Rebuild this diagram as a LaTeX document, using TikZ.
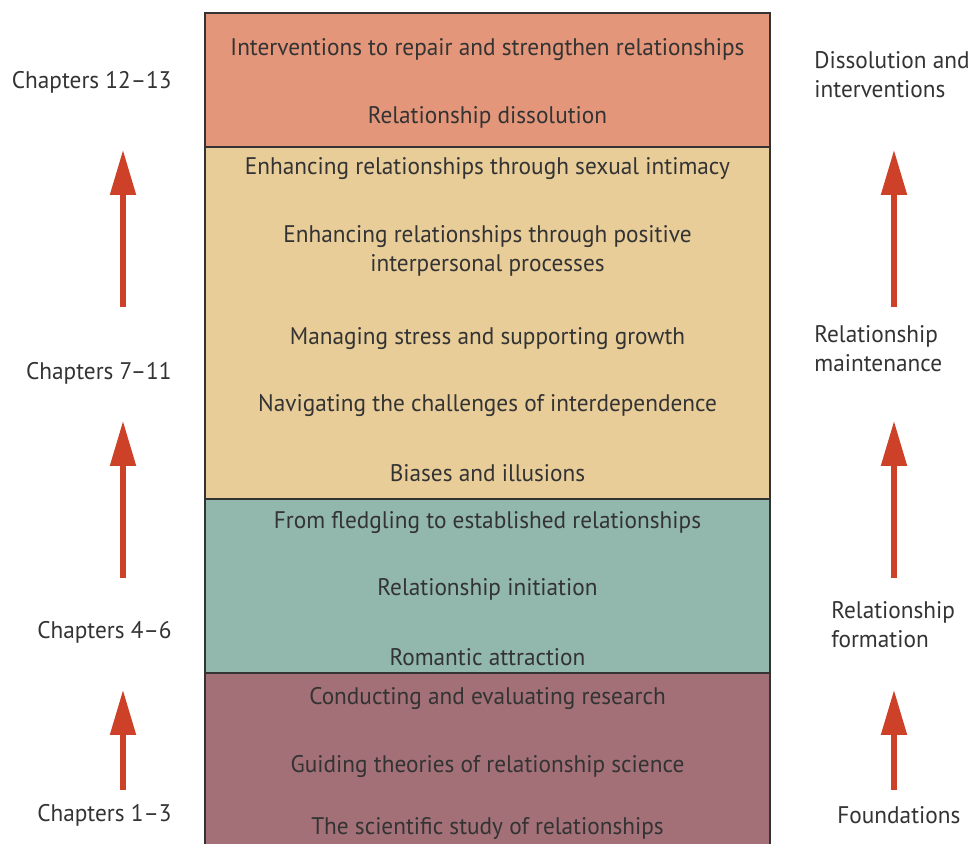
\documentclass[tikz,border=0pt]{standalone}
\usepackage{fontspec}
\setmainfont[FakeStretch=0.97]{PT Sans}
\usetikzlibrary{arrows.meta}

\definecolor{bandDissolve}{HTML}{E3967A}
\definecolor{bandMaintain}{HTML}{E8CD99}
\definecolor{bandForm}{HTML}{92B8AD}
\definecolor{bandFound}{HTML}{A37078}
\definecolor{stageRed}{HTML}{CC4128}
\definecolor{inkGray}{HTML}{333333}

\begin{document}
\begin{tikzpicture}[x=0.5pt, y=-0.5pt, font=\fontsize{12}{14.5}\selectfont, text=inkGray]
    \tikzset{
        band/.style={draw=inkGray, line width=0.8pt},
        topic/.style={inner sep=0pt, align=center, yshift=-1.3pt},
        chapter/.style={inner sep=0pt, anchor=east, yshift=-1.3pt},
        stage/.style={inner sep=0pt, anchor=west, align=left, yshift=-1.3pt},
        uparrow/.style={-{Triangle[length=22.5pt, width=12.5pt]}, draw=stageRed, line width=2.6pt}
    }
    \useasboundingbox (0,0) rectangle (971,844);

    % colour bands, bottom one runs off the page
    \fill[bandDissolve] (205,13) rectangle (770,147);
    \fill[bandMaintain] (205,147) rectangle (770,499);
    \fill[bandForm] (205,499) rectangle (770,673);
    \fill[bandFound] (205,673) rectangle (770,844);
    \draw[band] (205,844) -- (205,13) -- (770,13) -- (770,844);
    \draw[band] (205,147) -- (770,147);
    \draw[band] (205,499) -- (770,499);
    \draw[band] (205,673) -- (770,673);

    % topics in each band
    \node[topic] (repair) at (487.5,47) {Interventions to repair and strengthen relationships};
    \node[topic] (dissolution) at (487.5,115) {Relationship dissolution};
    \node[topic] (sexual) at (487.5,166) {Enhancing relationships through sexual intimacy};
    \node[topic] (positive) at (487.5,248.5) {Enhancing relationships through positive\\interpersonal processes};
    \node[topic] (stress) at (487.5,336) {Managing stress and supporting growth};
    \node[topic] (interdep) at (487.5,403) {Navigating the challenges of interdependence};
    \node[topic] (biases) at (487.5,471) {Biases and illusions};
    \node[topic] (fledgling) at (487.5,520) {From fledgling to established relationships};
    \node[topic] (initiation) at (487.5,587) {Relationship initiation};
    \node[topic] (attraction) at (487.5,655) {Romantic attraction};
    \node[topic] (research) at (487.5,696) {Conducting and evaluating research};
    \node[topic] (theories) at (487.5,764) {Guiding theories of relationship science};
    \node[topic] (science) at (487.5,826) {The scientific study of relationships};

    % chapter ranges on the left
    \node[chapter] (ch12) at (172,80) {Chapters 12--13};
    \node[chapter] (ch7) at (172,371) {Chapters 7--11};
    \node[chapter] (ch4) at (172,630) {Chapters 4--6};
    \node[chapter] (ch1) at (172,813) {Chapters 1--3};

    % stage names on the right
    \node[stage] (dissolve) at (814,72.5) {Dissolution and\\interventions};
    \node[stage] (maintain) at (814,346) {Relationship\\maintenance};
    \node[stage] (form) at (831,622.5) {Relationship\\formation};
    \node[stage] (found) at (837,813) {Foundations};

    % arrows between the stages
    \foreach \x/\side in {123/L, 894/R} {
        \coordinate (a1\side) at (\x,790);
        \coordinate (b1\side) at (\x,690);
        \coordinate (a2\side) at (\x,578);
        \coordinate (b2\side) at (\x,421);
        \coordinate (a3\side) at (\x,307);
        \coordinate (b3\side) at (\x,150);
        \draw[uparrow] (a1\side) -- (b1\side);
        \draw[uparrow] (a2\side) -- (b2\side);
        \draw[uparrow] (a3\side) -- (b3\side);
    }
\end{tikzpicture}
\end{document}
